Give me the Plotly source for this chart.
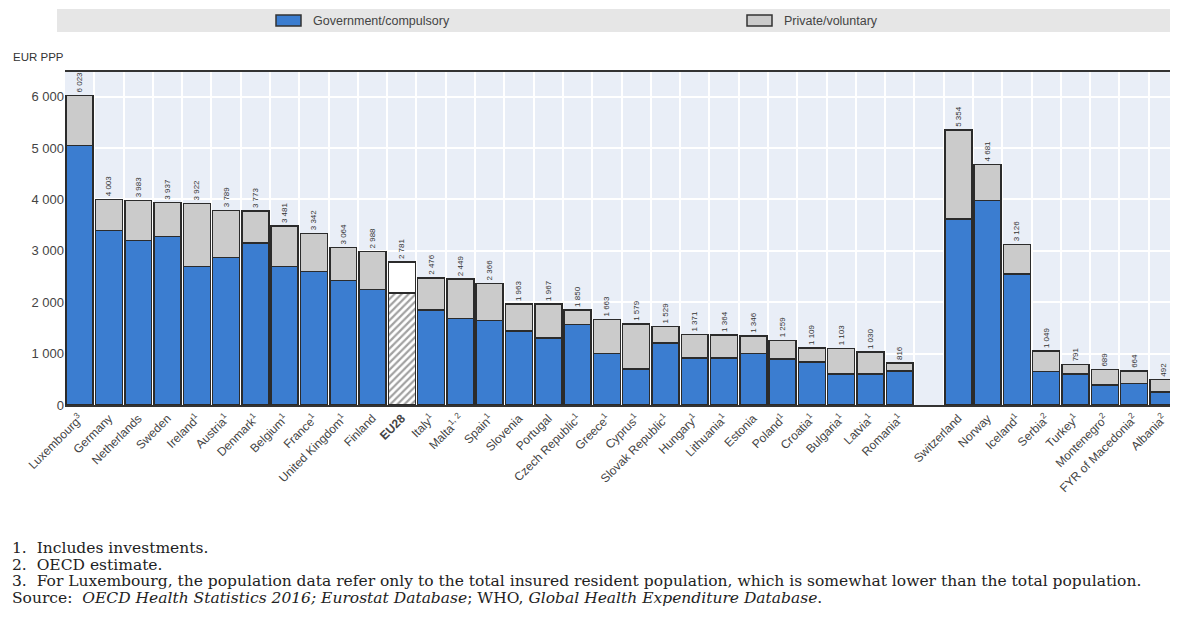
import plotly.graph_objects as go

# ---------------------------
#  Dados (EUR PPP per capita)
# ---------------------------

paises = [
    "Luxembourg<sup>3</sup>", "Germany", "Netherlands", "Sweden", "Ireland<sup>1</sup>",
    "Austria<sup>1</sup>", "Denmark<sup>1</sup>", "Belgium<sup>1</sup>", "France<sup>1</sup>",
    "United Kingdom<sup>1</sup>", "Finland", "<b>EU28</b>", "Italy<sup>1</sup>",
    "Malta<sup>1, 2</sup>", "Spain<sup>1</sup>", "Slovenia", "Portugal",
    "Czech Republic<sup>1</sup>", "Greece<sup>1</sup>", "Cyprus<sup>1</sup>",
    "Slovak Republic<sup>1</sup>", "Hungary<sup>1</sup>", "Lithuania<sup>1</sup>", "Estonia",
    "Poland<sup>1</sup>", "Croatia<sup>1</sup>", "Bulgaria<sup>1</sup>", "Latvia<sup>1</sup>",
    "Romania<sup>1</sup>", " ",
    "Switzerland", "Norway", "Iceland<sup>1</sup>", "Serbia<sup>2</sup>", "Turkey<sup>1</sup>",
    "Montenegro<sup>2</sup>", "FYR of Macedonia<sup>2</sup>", "Albania<sup>2</sup>",
]

total = [
    6023, 4003, 3983, 3937, 3922, 3789, 3773, 3481, 3342, 3064, 2988, 2781,
    2476, 2449, 2366, 1963, 1967, 1850, 1663, 1579, 1529, 1371, 1364, 1346,
    1259, 1109, 1103, 1030, 816, None,
    5354, 4681, 3126, 1049, 791, 689, 664, 492,
]

governo = [
    5050, 3400, 3200, 3280, 2700, 2870, 3150, 2700, 2600, 2420, 2250, 2180,
    1850, 1680, 1640, 1440, 1300, 1570, 1000, 700, 1210, 910, 910, 1000,
    900, 840, 600, 600, 660, None,
    3620, 3980, 2550, 650, 600, 390, 420, 250,
]

series = ["Government/compulsory", "Private/voluntary"]

notas = [
    "1.  Includes investments.",
    "2.  OECD estimate.",
    "3.  For Luxembourg, the population data refer only to the total insured resident population, "
    "which is somewhat lower than the total population.",
    "Source:  <i>OECD Health Statistics 2016; Eurostat Database</i>; WHO, "
    "<i>Global Health Expenditure Database</i>.",
]

privado = [None if t is None else t - g for t, g in zip(total, governo)]
rotulos = ["" if t is None else f"{t:,}".replace(",", " ") for t in total]

AZUL = "#3b7dd0"
CINZA = "#cbcbcb"
BORDA = "#2b2b2b"

eh_ue = [p == "<b>EU28</b>" for p in paises]
cor_gov = ["white" if e else AZUL for e in eh_ue]
padrao_gov = ["/" if e else "" for e in eh_ue]
cor_priv = ["white" if e else CINZA for e in eh_ue]

fig = go.Figure()

fig.add_trace(
    go.Bar(
        x = paises,
        y = governo,
        name = series[0],
        marker = dict(
            color = cor_gov,
            line = dict(color = BORDA, width = 1.5),
            pattern = dict(shape = padrao_gov, fgcolor = "#333333", size = 5, solidity = 0.45),
        ),
    )
)

fig.add_trace(
    go.Bar(
        x = paises,
        y = privado,
        name = series[1],
        marker = dict(color = cor_priv, line = dict(color = BORDA, width = 1.5)),
        text = rotulos,
        textposition = "outside",
        textangle = -90,
        textfont = dict(size = 8, color = "#333333"),
        cliponaxis = False,
    )
)

# --------------------------------------------
#  Coordenadas em pixels da página -> "paper"
#  (a página tem margem de 8 px no body)
# --------------------------------------------

OFF = 8
TOPO, BASE, ESQ, DIR = 72, 405, 65, 1178

def py(p):
    return (BASE - p) / (BASE - TOPO)

def px(p):
    return (p - ESQ) / (DIR - ESQ)

# faixa cinza da legenda
fig.add_shape(
    type = "rect", xref = "paper", yref = "paper",
    x0 = px(57), x1 = 1.0, y0 = py(32), y1 = py(9),
    fillcolor = "#e6e6e6", line = dict(width = 0), layer = "below",
)

for nome, cor, x0 in zip(series, [AZUL, CINZA], [276, 747]):
    fig.add_shape(
        type = "rect", xref = "paper", yref = "paper",
        x0 = px(x0), x1 = px(x0 + 25), y0 = py(26), y1 = py(15),
        fillcolor = cor, line = dict(color = "#333333", width = 1.5),
    )
    fig.add_annotation(
        text = nome, xref = "paper", yref = "paper",
        x = px(x0 + 35), y = py(21), xanchor = "left", yanchor = "middle",
        showarrow = False, font = dict(size = 12.5, color = "#444444"),
    )

fig.add_annotation(
    text = "EUR PPP", xref = "paper", yref = "paper",
    x = px(11), y = py(57), xanchor = "left", yanchor = "middle",
    showarrow = False, font = dict(size = 11.5, color = "#333333"),
)

for i, nota in enumerate(notas):
    fig.add_annotation(
        text = nota, xref = "paper", yref = "paper",
        x = px(10), y = py(548 + 16.7 * i), xanchor = "left", yanchor = "middle",
        align = "left", showarrow = False,
        font = dict(family = "DejaVu Serif", size = 15.5, color = "#222222"),
    )

fig.update_layout(
    width = 1178 - OFF, height = 618 - OFF,
    barmode = "stack",
    bargap = 0.08,
    separators = ". ",
    font = dict(family = "Liberation Sans, Arial", color = "#444444"),
    plot_bgcolor = "#e9eef7",
    paper_bgcolor = "white",
    margin = dict(
        l = ESQ - OFF, r = 0, t = TOPO - OFF, b = 618 - BASE,
        autoexpand = False,
    ),
    showlegend = False,
)

fig.update_xaxes(
    tickangle = -45,
    tickfont = dict(size = 12, color = "#444444"),
    showgrid = True, gridcolor = "white", gridwidth = 1.5,
    tickson = "boundaries", ticks = "",
    showline = True, linecolor = "#333333", linewidth = 1.5, mirror = True,
)

fig.update_yaxes(
    range = [0, 6480],
    dtick = 1000,
    tickformat = ",d",
    tickfont = dict(size = 13, color = "#444444"),
    showgrid = True, gridcolor = "white", gridwidth = 1.5,
    zeroline = False,
)

fig.write_html("out.html")
